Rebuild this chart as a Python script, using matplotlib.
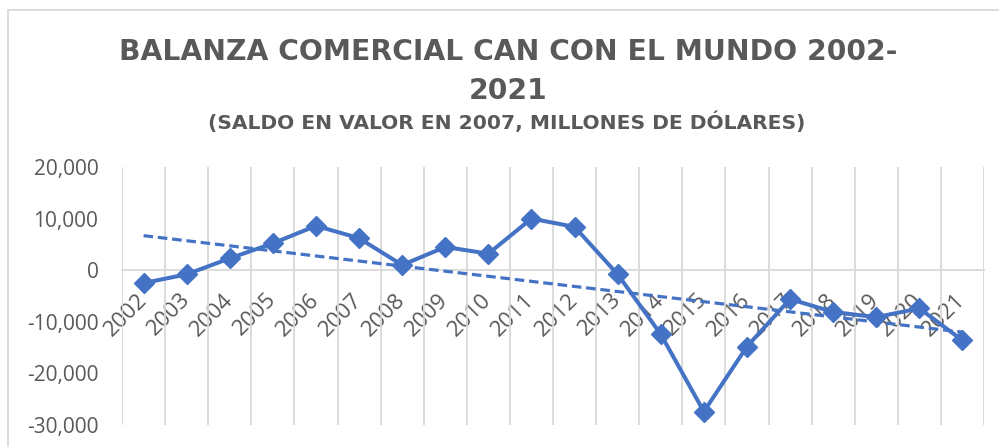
import numpy as np
import matplotlib
matplotlib.use('Agg')
import matplotlib.pyplot as plt
from matplotlib.lines import Line2D
from matplotlib.ticker import FuncFormatter

# Balanza comercial CAN con el mundo (millones de dólares de 2007)
years = [str(y) for y in range(2002, 2022)]
saldo = [-2500, -800, 2300, 5200, 8600, 6200, 1000, 4500, 3200, 10000,
         8400, -800, -12400, -27400, -14800, -5600, -8100, -9100, -7400, -13600]
y_ticks = [-30000, -20000, -10000, 0, 10000, 20000]

title = 'BALANZA COMERCIAL CAN CON EL MUNDO 2002-\n2021'
subtitle = '(SALDO EN VALOR EN 2007, MILLONES DE DÓLARES)'

blue = '#4472C4'
text_gray = '#595959'
grid_gray = '#D9D9D9'

plt.rcParams['font.family'] = ['Open Sans', 'DejaVu Sans']

fig = plt.figure(figsize=(9.99, 4.47), dpi=100)
ax = fig.add_axes([122 / 999, 1 - 425 / 447, (984 - 122) / 999, (425 - 167) / 447])

x = np.arange(len(years))
ax.plot(x, saldo, color=blue, lw=2.9, marker='D', markersize=10, zorder=4)

# linear trendline (like Excel)
slope, intercept = np.polyfit(x, saldo, 1)
ax.plot(x, slope * x + intercept, color=blue, lw=2.3, linestyle=(0, (3.0, 1.5)), zorder=3)

ax.set_xlim(-0.5, len(years) - 0.5)
ax.set_ylim(y_ticks[0], y_ticks[-1])
ax.set_yticks(y_ticks)
ax.yaxis.set_major_formatter(FuncFormatter(lambda v, p: f'{int(v):,}'))

for side in ['top', 'right', 'left']:
    ax.spines[side].set_visible(False)
ax.spines['bottom'].set_position(('data', 0))
ax.spines['bottom'].set_color(grid_gray)
ax.spines['bottom'].set_linewidth(1.3)

ax.set_xticks(x)
ax.set_xticklabels(years)
ax.set_xticks(np.arange(len(years) + 1) - 0.5, minor=True)
ax.grid(True, which='minor', axis='x', color=grid_gray, lw=1.3)
ax.grid(False, which='major')

ax.tick_params(axis='x', which='both', length=0, pad=19, labelsize=16,
               labelcolor=text_gray, labelrotation=45)
ax.tick_params(axis='y', length=0, pad=17, labelsize=15, labelcolor=text_gray)
for lbl in ax.get_xticklabels():
    lbl.set_ha('right')
    lbl.set_va('center')
    lbl.set_rotation_mode('anchor')

fig.text(508 / 999, 1 - 71.5 / 447, title, ha='center', va='center', fontsize=20.3,
         fontweight='bold', color=text_gray, linespacing=1.5,
         family=['DejaVu Sans'])
fig.text(507 / 999, 1 - 122.5 / 447, subtitle, ha='center', va='center', fontsize=14.6,
         fontweight='bold', color=text_gray, family=['DejaVu Sans'])

# chart area border (top and left edges visible)
fig.add_artist(Line2D([8 / 999, 1], [1 - 10 / 447] * 2, transform=fig.transFigure,
                      color=grid_gray, lw=1.3))
fig.add_artist(Line2D([8 / 999] * 2, [0, 1 - 10 / 447], transform=fig.transFigure,
                      color=grid_gray, lw=1.3))

fig.savefig('out.png', dpi=100)
